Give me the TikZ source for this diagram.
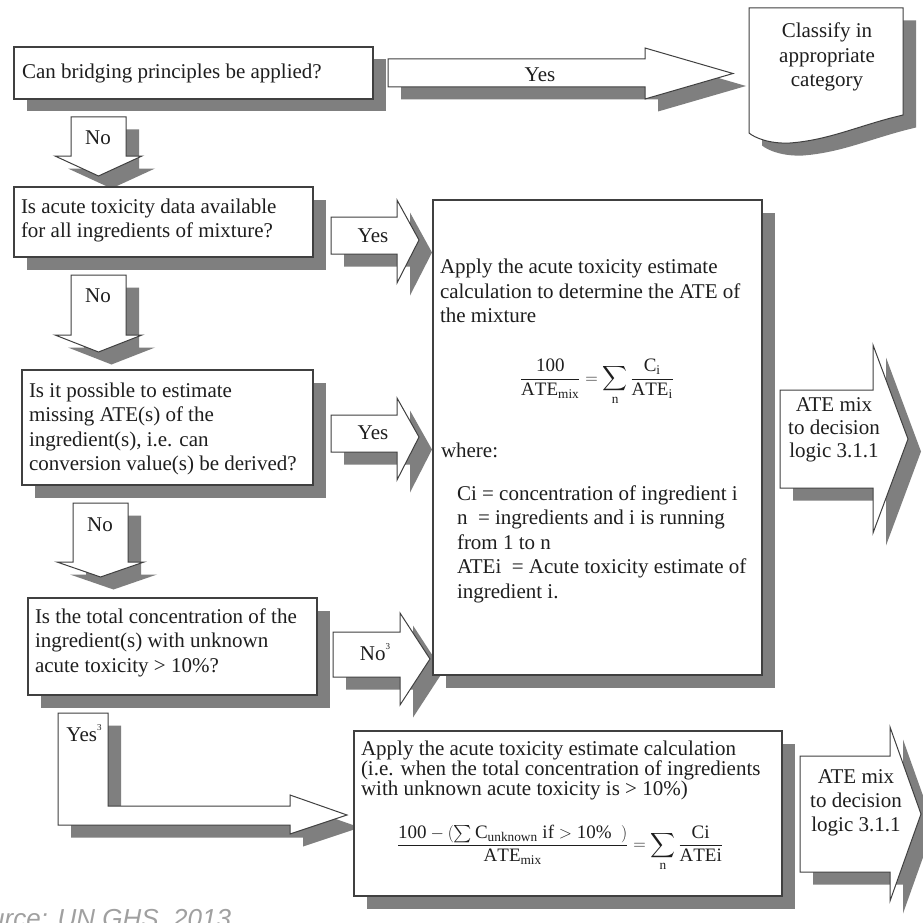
\documentclass[tikz,border=0pt]{standalone}
\usepackage{amsmath}
\usepackage{fontspec}
\setmainfont{Liberation Serif}
\newfontfamily\srcfont{Liberation Sans}
\usetikzlibrary{shadows}
\definecolor{shgray}{HTML}{7F7F7F}
\definecolor{edge}{HTML}{404040}
\definecolor{ink}{HTML}{1E1E1E}
\definecolor{srcgray}{HTML}{A0A0A0}
\newcommand\leftlines[2]{\vtop{\baselineskip=#1\lineskiplimit=-\maxdimen\halign{##\hfil\cr#2\crcr}}}
\newcommand\centerlines[2]{\vtop{\baselineskip=#1\lineskiplimit=-\maxdimen\halign{\hfil##\hfil\cr#2\crcr}}}
\newcommand\supthree{\raisebox{0.55em}{\fontsize{9}{9}\selectfont 3}}
\begin{document}
\begin{tikzpicture}[x=1pt,y=-1pt,
  every node/.style={text=ink, inner sep=0pt, outer sep=0pt},
  shd/.style={drop shadow={shadow xshift=13pt,shadow yshift=-12.5pt,fill=shgray,opacity=1}},
  boxshape/.style={draw=edge, line width=1.2pt, fill=white, shd, rectangle, anchor=north west},
  blockarrow/.style={draw=edge, line width=1pt, fill=white, shd, line join=miter},
  lbl/.style={font=\fontsize{21}{24.5}\selectfont},
]
\useasboundingbox (0,0) rectangle (922,923);
\fill[white] (0,0) rectangle (922,923);

% ---------- block arrows ----------
\path[blockarrow] (388,59) -- (645,59) -- (645,48) -- (733,73.5) -- (645,99) -- (645,87) -- (388,87) -- cycle;
\path[blockarrow] (71,117) -- (126,117) -- (126,156) -- (142,156) -- (98.5,176) -- (55,156) -- (71,156) -- cycle;
\path[blockarrow] (331,217) -- (397,217) -- (397,200) -- (419,240) -- (397,283) -- (397,254) -- (331,254) -- cycle;
\path[blockarrow] (71,275) -- (126,275) -- (126,335) -- (142,335) -- (98.5,352) -- (55,335) -- (71,335) -- cycle;
\path[blockarrow] (331,415) -- (397,415) -- (397,398) -- (419,437) -- (397,480) -- (397,452) -- (331,452) -- cycle;
\path[blockarrow] (73,503) -- (128,503) -- (128,562) -- (144,562) -- (100.5,577) -- (57,562) -- (73,562) -- cycle;
\path[blockarrow] (333,632) -- (400,632) -- (400,613) -- (430,659) -- (400,705) -- (400,677) -- (333,677) -- cycle;
\path[blockarrow] (780,390) -- (873,390) -- (873,345) -- (908,439) -- (873,533) -- (873,488) -- (780,488) -- cycle;
\path[blockarrow] (58,713) -- (108,713) -- (108,806) -- (290,806) -- (290,795) -- (347,815) -- (290,834) -- (290,825) -- (58,825) -- cycle;
\path[blockarrow] (800,756) -- (890,756) -- (890,727) -- (921,814) -- (890,901) -- (890,872) -- (800,872) -- cycle;

% ---------- document shape ----------
\path[blockarrow] (749,8) -- (903,8) -- (903,115) .. controls (860,125) and (830,140) .. (790,143) .. controls (770,144) and (755,138) .. (749,133) -- cycle;

% ---------- boxes ----------
\node[boxshape, minimum width=359pt, minimum height=52pt] (b1) at (14,47) {};
\node[boxshape, minimum width=299pt, minimum height=70pt] (b2) at (14,187) {};
\node[boxshape, minimum width=291pt, minimum height=115pt] (b3) at (22,370) {};
\node[boxshape, minimum width=289pt, minimum height=97pt] (b4) at (28,598) {};
\node[boxshape, minimum width=329pt, minimum height=475pt] (b5) at (433,200) {};
\node[boxshape, minimum width=428pt, minimum height=165pt] (b6) at (354,731) {};

% ---------- box texts ----------
\node[lbl, anchor=base west] (q1) at (22,79) {Can bridging principles be applied?};
\node[lbl, anchor=base west] (q2) at (21,213) {\leftlines{24.5pt}{Is acute toxicity data available\cr for all ingredients of mixture?}};
\node[lbl, anchor=base west] (q3) at (29,397) {\leftlines{24.5pt}{Is it possible to estimate\cr missing ATE(s) of the\cr ingredient(s), i.e. can\cr conversion value(s) be derived?}};
\node[lbl, anchor=base west] (q4) at (35,623) {\leftlines{24.5pt}{Is the total concentration of the\cr ingredient(s) with unknown\cr acute toxicity > 10\%?}};

\node[lbl, anchor=base west] (c1) at (440,273.5) {\leftlines{24.5pt}{Apply the acute toxicity estimate\cr calculation to determine the ATE of\cr the mixture}};
\node (f1) at (597,382) {\fontsize{19}{22}\selectfont$\displaystyle\frac{\mathrm{100}}{\mathrm{ATE}_{\mathrm{mix}}}=\sum_{\mathrm{n}}\frac{\mathrm{C}_{\mathrm{i}}}{\mathrm{ATE}_{\mathrm{i}}}$};
\node[lbl, anchor=base west] (w1) at (441,457) {where:};
\node[lbl, anchor=base west] (w2) at (457,500) {\leftlines{24.5pt}{Ci = concentration of ingredient i\cr n~~= ingredients and i is running\cr from 1 to n\cr ATEi~~= Acute toxicity estimate of\cr ingredient i.}};

\node[lbl, anchor=base west] (c2) at (361,755) {\leftlines{20pt}{Apply the acute toxicity estimate calculation\cr (i.e. when the total concentration of ingredients\cr with unknown acute toxicity is > 10\%)}};
\node (f2) at (560,848) {\fontsize{19}{22}\selectfont$\displaystyle\frac{\mathrm{100}-(\sum \mathrm{C}_{\mathrm{unknown}}\ \mathrm{if} > \mathrm{10}\%\ \ )}{\mathrm{ATE}_{\mathrm{mix}}}=\sum_{\mathrm{n}}\frac{\mathrm{Ci}}{\mathrm{ATEi}}$};

\node[lbl] (dt) at (827,57) {\centerlines{24.5pt}{Classify in\cr appropriate\cr category}};

% ---------- arrow labels ----------
\node[lbl] (a1) at (540,75) {Yes};
\node[lbl] (n1) at (98,138) {No};
\node[lbl] (y2) at (373,236) {Yes};
\node[lbl] (n2) at (98,296) {No};
\node[lbl] (y3) at (373,433) {Yes};
\node[lbl] (n3) at (100,525) {No};
\node[lbl] (y4) at (375,652) {No\supthree};
\node[lbl] (y5) at (84,733) {Yes\supthree};
\node[lbl] (r1) at (834,430) {\centerlines{23pt}{ATE mix\cr to decision\cr logic 3.1.1}};
\node[lbl] (r2) at (856,803) {\centerlines{24pt}{ATE mix\cr to decision\cr logic 3.1.1}};

% ---------- source ----------
\node[anchor=base east, text=srcgray, font=\srcfont\itshape\fontsize{26}{30}\selectfont] (src) at (231,927) {Source: UN GHS, 2013};
\end{tikzpicture}
\end{document}
